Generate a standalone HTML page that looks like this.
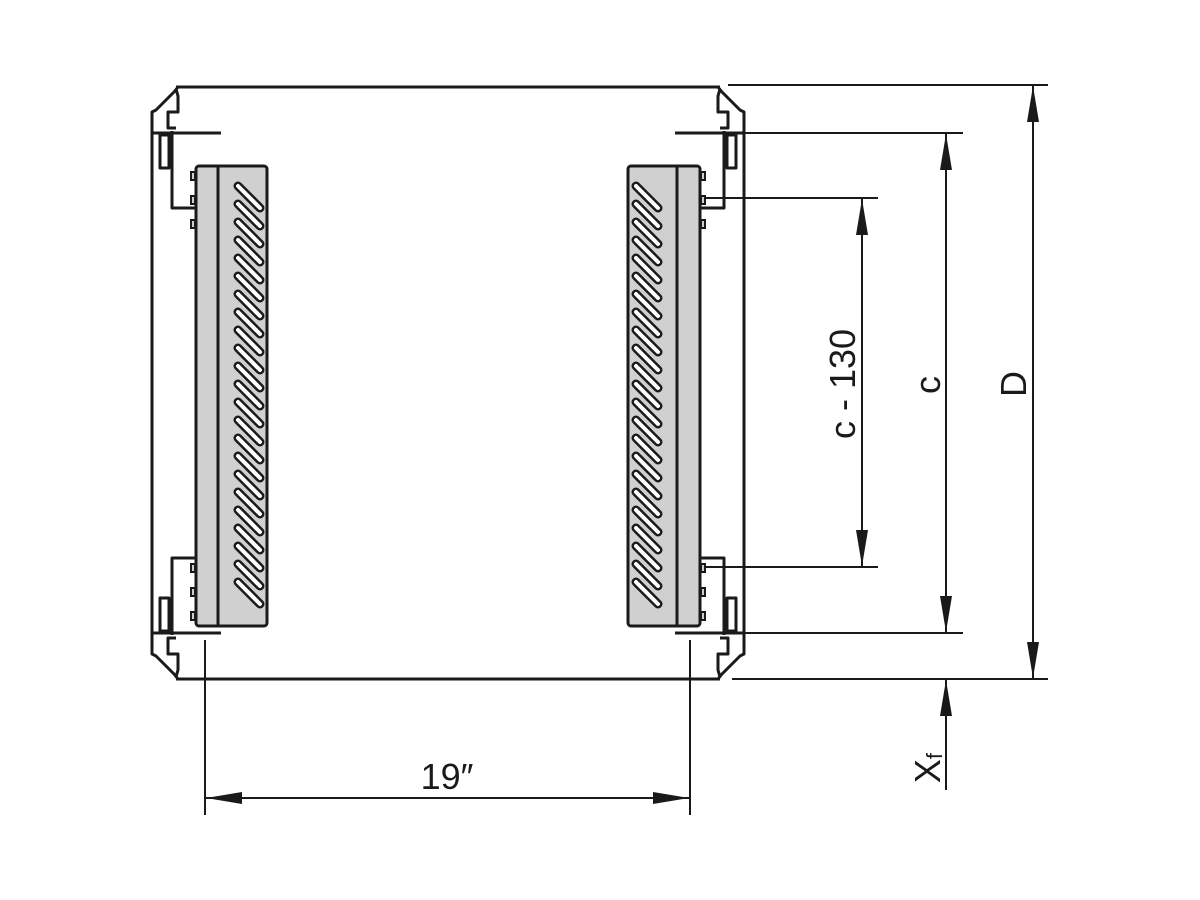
<!DOCTYPE html>
<html><head><style>html,body{margin:0;padding:0;background:#fff}svg{display:block}</style></head>
<body>
<svg width="1200" height="900" viewBox="0 0 1200 900" xmlns="http://www.w3.org/2000/svg">
<defs>
<g id="prof" fill="none" stroke="#1a1a1a" stroke-width="3" stroke-linejoin="round">
  <path d="M718,87 L722,92 L740,110 L744,112 L744,383"/>
  <path d="M720,89 L718,96 L718,112 L728,112 L728,128 L720,128"/>
  <path d="M724,131 L724,208 L700,208"/>
  <rect x="727" y="135" width="9" height="33"/>
  <line x1="675" y1="133" x2="744" y2="133"/>
</g>
<marker id="a" viewBox="0 0 36 12" refX="36" refY="6" markerWidth="36" markerHeight="12" markerUnits="userSpaceOnUse" orient="auto-start-reverse"><path d="M0,0 L36,6 L0,12 Z" fill="#1a1a1a"/></marker>
</defs>
<rect width="1200" height="900" fill="#fff"/>
<line x1="176" y1="87" x2="720" y2="87" stroke="#1a1a1a" stroke-width="3"/>
<line x1="176" y1="679" x2="720" y2="679" stroke="#1a1a1a" stroke-width="3"/>
<use href="#prof"/>
<use href="#prof" transform="translate(896,0) scale(-1,1)"/>
<use href="#prof" transform="translate(0,766) scale(1,-1)"/>
<use href="#prof" transform="translate(896,766) scale(-1,-1)"/>
<g stroke="#1a1a1a" stroke-width="3">
  <rect x="196" y="166" width="71" height="460" rx="3" fill="#d0d0d0"/>
  <line x1="218" y1="166" x2="218" y2="626"/>
  <rect x="628" y="166" width="72" height="460" rx="3" fill="#d0d0d0"/>
  <line x1="677" y1="166" x2="677" y2="626"/>
</g>
<g fill="#d0d0d0" stroke="#1a1a1a" stroke-width="2">
  <rect x="191" y="172" width="4" height="8"/><rect x="191" y="196" width="4" height="8"/><rect x="191" y="220" width="4" height="8"/>
  <rect x="191" y="564" width="4" height="8"/><rect x="191" y="588" width="4" height="8"/><rect x="191" y="612" width="4" height="8"/>
  <rect x="701" y="172" width="4" height="8"/><rect x="701" y="196" width="4" height="8"/><rect x="701" y="220" width="4" height="8"/>
  <rect x="701" y="564" width="4" height="8"/><rect x="701" y="588" width="4" height="8"/><rect x="701" y="612" width="4" height="8"/>
</g>
<g stroke-linecap="round">
<g stroke="#1a1a1a" stroke-width="9">
<path d="M238,186l22,22M238,204l22,22M238,222l22,22M238,240l22,22M238,258l22,22M238,276l22,22M238,294l22,22M238,312l22,22M238,330l22,22M238,348l22,22M238,366l22,22M238,384l22,22M238,402l22,22M238,420l22,22M238,438l22,22M238,456l22,22M238,474l22,22M238,492l22,22M238,510l22,22M238,528l22,22M238,546l22,22M238,564l22,22M238,582l22,22"/>
<path d="M636,186l22,22M636,204l22,22M636,222l22,22M636,240l22,22M636,258l22,22M636,276l22,22M636,294l22,22M636,312l22,22M636,330l22,22M636,348l22,22M636,366l22,22M636,384l22,22M636,402l22,22M636,420l22,22M636,438l22,22M636,456l22,22M636,474l22,22M636,492l22,22M636,510l22,22M636,528l22,22M636,546l22,22M636,564l22,22M636,582l22,22"/>
</g>
<g stroke="#fff" stroke-width="4">
<path d="M238,186l22,22M238,204l22,22M238,222l22,22M238,240l22,22M238,258l22,22M238,276l22,22M238,294l22,22M238,312l22,22M238,330l22,22M238,348l22,22M238,366l22,22M238,384l22,22M238,402l22,22M238,420l22,22M238,438l22,22M238,456l22,22M238,474l22,22M238,492l22,22M238,510l22,22M238,528l22,22M238,546l22,22M238,564l22,22M238,582l22,22"/>
<path d="M636,186l22,22M636,204l22,22M636,222l22,22M636,240l22,22M636,258l22,22M636,276l22,22M636,294l22,22M636,312l22,22M636,330l22,22M636,348l22,22M636,366l22,22M636,384l22,22M636,402l22,22M636,420l22,22M636,438l22,22M636,456l22,22M636,474l22,22M636,492l22,22M636,510l22,22M636,528l22,22M636,546l22,22M636,564l22,22M636,582l22,22"/>
</g>
</g>
<g stroke="#1a1a1a" stroke-width="2" fill="none">
  <line x1="728" y1="85" x2="1048" y2="85"/>
  <line x1="744" y1="133" x2="963" y2="133"/>
  <line x1="705" y1="198" x2="878" y2="198"/>
  <line x1="705" y1="567" x2="878" y2="567"/>
  <line x1="744" y1="633" x2="963" y2="633"/>
  <line x1="732" y1="679" x2="1048" y2="679"/>
  <line x1="1033" y1="86" x2="1033" y2="678" marker-start="url(#a)" marker-end="url(#a)"/>
  <line x1="946" y1="134" x2="946" y2="632" marker-start="url(#a)" marker-end="url(#a)"/>
  <line x1="862" y1="199" x2="862" y2="566" marker-start="url(#a)" marker-end="url(#a)"/>
  <line x1="946" y1="790" x2="946" y2="680" marker-end="url(#a)"/>
  <line x1="205" y1="640" x2="205" y2="815"/>
  <line x1="690" y1="640" x2="690" y2="815"/>
  <line x1="206" y1="798" x2="689" y2="798" marker-start="url(#a)" marker-end="url(#a)"/>
</g>
<g font-family="Liberation Sans, sans-serif" fill="#1a1a1a" font-size="36">
  <text x="447" y="789" text-anchor="middle">19″</text>
  <text transform="translate(1026,384) rotate(-90)" text-anchor="middle">D</text>
  <text transform="translate(940,385) rotate(-90)" text-anchor="middle">c</text>
  <text transform="translate(855,384) rotate(-90)" text-anchor="middle">c - 130</text>
  <text transform="translate(940,768) rotate(-90)" text-anchor="middle">X<tspan font-size="22" dy="2">f</tspan></text>
</g>
</svg>
</body></html>
